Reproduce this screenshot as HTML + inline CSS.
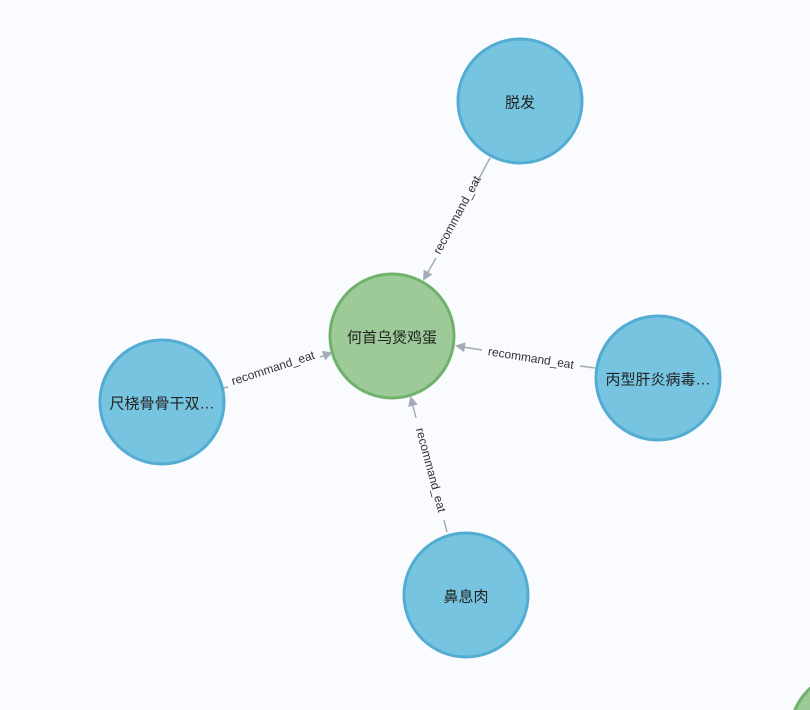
<!DOCTYPE html>
<html><head><meta charset="utf-8"><style>
html,body{margin:0;padding:0;background:#f9fbfe;width:810px;height:710px;overflow:hidden;}
svg{display:block;}
text{font-family:"Liberation Sans","Noto Sans CJK SC",sans-serif;}
</style></head><body>
<svg width="810" height="710" viewBox="0 0 810 710" style="overflow:hidden">
<defs><marker id="a" viewBox="0 0 10 10" refX="8" refY="5" markerWidth="10" markerHeight="10" markerUnits="userSpaceOnUse" orient="auto"><path d="M0,0L10,5L0,10z" fill="#a5abb6"/></marker></defs>
<g stroke="#a5abb6" stroke-width="1.5" fill="none">
<line x1="490" y1="158" x2="476" y2="184"/><line x1="436" y1="258" x2="424" y2="279" marker-end="url(#a)"/>
<line x1="595" y1="368" x2="580" y2="366"/><line x1="482" y1="350" x2="457" y2="346" marker-end="url(#a)"/>
<line x1="224" y1="388" x2="228" y2="387"/><line x1="320" y1="357" x2="331" y2="353" marker-end="url(#a)"/>
<line x1="447" y1="532" x2="444" y2="520"/><line x1="416" y1="418" x2="411" y2="398" marker-end="url(#a)"/>
</g>
<g font-size="12" fill="#333" text-anchor="middle" dominant-baseline="central">
<text transform="translate(457,215) rotate(-61.6)">recommand_eat</text>
<text transform="translate(531,358) rotate(9)">recommand_eat</text>
<text transform="translate(273,368) rotate(-18)">recommand_eat</text>
<text transform="translate(431,470) rotate(75)">recommand_eat</text>
</g>
<g stroke-width="3">
<circle cx="520" cy="101" r="62" fill="#76c4e0" stroke="#53acd2"/>
<circle cx="658" cy="378" r="62" fill="#76c4e0" stroke="#53acd2"/>
<circle cx="162" cy="402" r="62" fill="#76c4e0" stroke="#53acd2"/>
<circle cx="466" cy="595" r="62" fill="#76c4e0" stroke="#53acd2"/>
<circle cx="392" cy="336" r="62" fill="#9dca98" stroke="#6fb26b"/>
<circle cx="852" cy="734" r="62" fill="#9dca98" stroke="#6fb26b"/>
</g>
<g font-size="15" fill="#222" text-anchor="middle" dominant-baseline="central">
<text x="520" y="103">脱发</text>
<text x="658" y="380">丙型肝炎病毒…</text>
<text x="162" y="404">尺桡骨骨干双…</text>
<text x="466" y="597">鼻息肉</text>
<text x="392" y="338">何首乌煲鸡蛋</text>
</g>
</svg>
</body></html>
